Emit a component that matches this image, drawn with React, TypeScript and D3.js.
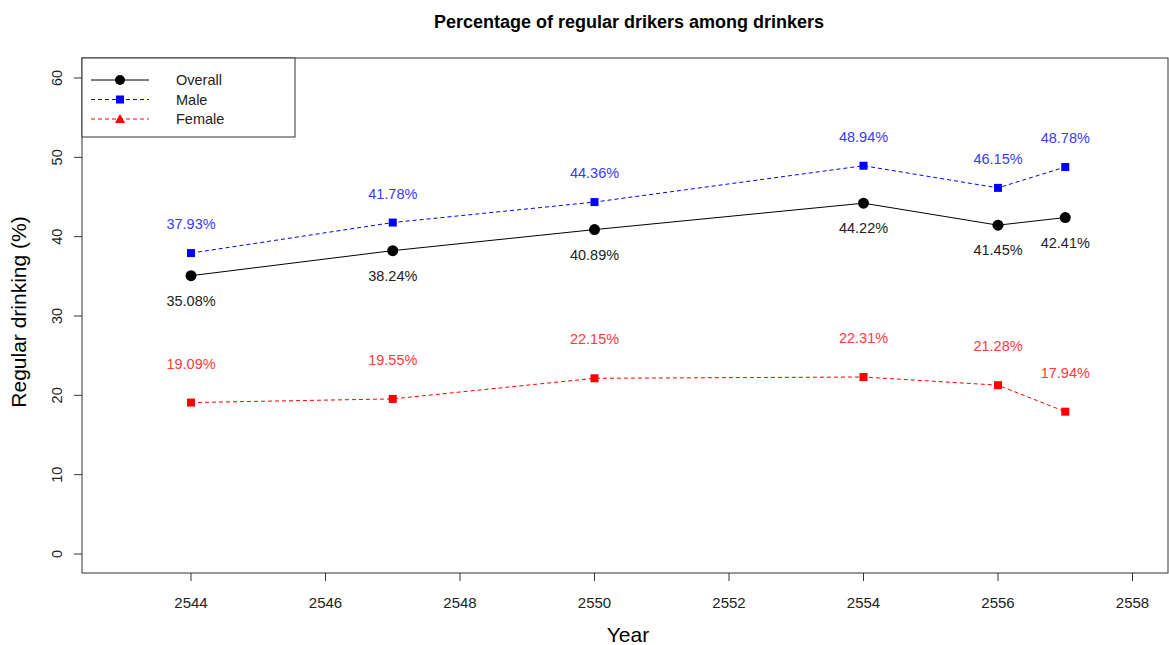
import React from "react";
import * as d3 from "d3";

const years = [2544, 2547, 2550, 2554, 2556, 2557];
const overall = [35.08, 38.24, 40.89, 44.22, 41.45, 42.41];
const male = [37.93, 41.78, 44.36, 48.94, 46.15, 48.78];
const female = [19.09, 19.55, 22.15, 22.31, 21.28, 17.94];
const xTicks = [2544, 2546, 2548, 2550, 2552, 2554, 2556, 2558];
const yTicks = [0, 10, 20, 30, 40, 50, 60];
const legendLabels = ["Overall", "Male", "Female"];

const W = 1169, H = 645;
const box = { left: 82, right: 1168, top: 58, bottom: 573 };
const FONT = "'Liberation Sans', Arial, sans-serif";

export default function App() {
  const x = d3.scaleLinear().domain([2544, 2558]).range([191, 1132.5]);
  const y = d3.scaleLinear().domain([0, 60]).range([554, 78]);
  const line = d3.line<number>().x((_, i) => x(years[i])).y((d) => y(d));
  const fmt = (v: number) => v.toFixed(2) + "%";

  return (
    <svg width={W} height={H} style={{ position: "absolute", left: 0, top: 0, background: "#fff" }} fontFamily={FONT}>
      <rect x={0} y={0} width={W} height={H} fill="#fff" />
      <text x={629} y={28} textAnchor="middle" fontSize={18} fontWeight="bold">Percentage of regular drikers among drinkers</text>
      <rect x={box.left} y={box.top} width={box.right - box.left} height={box.bottom - box.top} fill="none" stroke="#333" strokeWidth={1} />
      {xTicks.map((t) => (
        <g key={t}>
          <line x1={x(t)} x2={x(t)} y1={box.bottom} y2={box.bottom + 8} stroke="#333" />
          <text x={x(t)} y={608} textAnchor="middle" fontSize={15} fill="#222">{t}</text>
        </g>
      ))}
      {yTicks.map((t) => (
        <g key={t}>
          <line x1={box.left - 8} x2={box.left} y1={y(t)} y2={y(t)} stroke="#333" />
          <text transform={`translate(62,${y(t)}) rotate(-90)`} textAnchor="middle" fontSize={14.5} fill="#222">{t}</text>
        </g>
      ))}
      <text x={628} y={642} textAnchor="middle" fontSize={21}>Year</text>
      <text transform={`translate(26,${312}) rotate(-90)`} textAnchor="middle" fontSize={21}>Regular drinking (%)</text>

      <path d={line(overall) || ""} fill="none" stroke="#000" strokeWidth={1} />
      <path d={line(male) || ""} fill="none" stroke="#0000ff" strokeWidth={1} strokeDasharray="4,3" />
      <path d={line(female) || ""} fill="none" stroke="#ff0000" strokeWidth={1} strokeDasharray="4,3" />

      {overall.map((v, i) => (
        <g key={"o" + i}>
          <circle cx={x(years[i])} cy={y(v)} r={5.5} fill="#000" />
          <text x={x(years[i])} y={y(v) + 30} textAnchor="middle" fontSize={14.5} fill="#222">{fmt(v)}</text>
        </g>
      ))}
      {male.map((v, i) => (
        <g key={"m" + i}>
          <rect x={x(years[i]) - 4} y={y(v) - 4} width={8} height={8} fill="#0000ff" />
          <text x={x(years[i])} y={y(v) - 24} textAnchor="middle" fontSize={14.5} fill="#3a3aff">{fmt(v)}</text>
        </g>
      ))}
      {female.map((v, i) => (
        <g key={"f" + i}>
          <rect x={x(years[i]) - 4} y={y(v) - 4} width={8} height={8} fill="#ff0000" />
          <text x={x(years[i])} y={y(v) - 34} textAnchor="middle" fontSize={14.5} fill="#ff3a3a">{fmt(v)}</text>
        </g>
      ))}

      <g>
        <rect x={box.left} y={box.top} width={213} height={79} fill="#fff" stroke="#333" />
        {legendLabels.map((lab, i) => {
          const ly = 80 + i * 19.5;
          const col = i === 0 ? "#000" : i === 1 ? "#0000ff" : "#ff0000";
          return (
            <g key={lab}>
              <line x1={91} x2={149} y1={ly} y2={ly} stroke={col} strokeDasharray={i === 0 ? undefined : "4,3"} />
              {i === 0 && <circle cx={120} cy={ly} r={5} fill="#000" />}
              {i === 1 && <rect x={116} y={ly - 4} width={8} height={8} fill="#0000ff" />}
              {i === 2 && <path d={`M${120},${ly - 5} L${125},${ly + 4} L${115},${ly + 4} Z`} fill="#ff0000" />}
              <text x={176} y={ly + 5} fontSize={14.5} fill="#222">{lab}</text>
            </g>
          );
        })}
      </g>
    </svg>
  );
}
